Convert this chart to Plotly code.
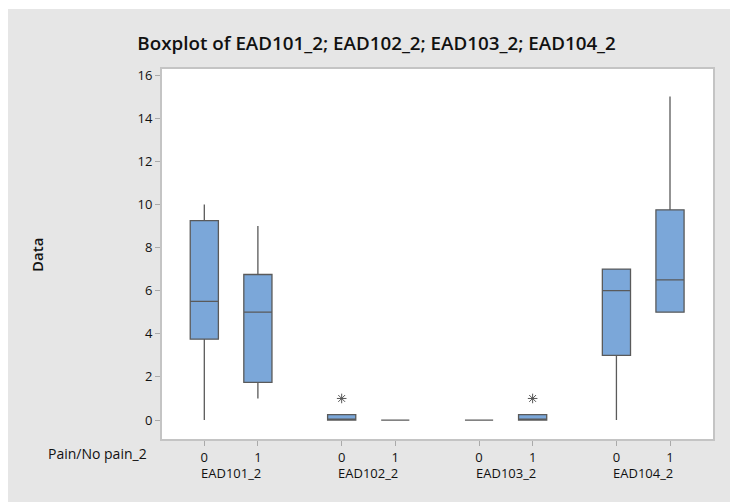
import plotly.graph_objects as go

# ---- data ----
groups = ["EAD101_2", "EAD102_2", "EAD103_2", "EAD104_2"]
levels = ["0", "1"]
q1 =     [3.75, 1.75, 0.0, 0.0, 0.0, 0.0, 3.0, 5.0]
median = [5.5,  5.0,  0.0, 0.0, 0.0, 0.0, 6.0, 6.5]
q3 =     [9.25, 6.75, 0.25, 0.0, 0.0, 0.25, 7.0, 9.75]
lower =  [0.0,  1.0,  0.0, 0.0, 0.0, 0.0, 0.0, 5.0]
upper =  [10.0, 9.0,  0.25, 0.0, 0.0, 0.25, 7.0, 15.0]
outlier_box = [2, 5]          # index of box having an outlier
outlier_val = [1.0, 1.0]
y_ticks = [0, 2, 4, 6, 8, 10, 12, 14, 16]

# positions: group centre +/- offset
offset = 0.195
xpos = []
xtext = []
for g in range(len(groups)):
    for j, lv in enumerate(levels):
        xpos.append(g + (-offset if j == 0 else offset))
        xtext.append(lv)

FONT = "Open Sans"
fig = go.Figure()
fig.add_trace(go.Box(
    x=xpos, q1=q1, median=median, q3=q3,
    lowerfence=lower, upperfence=upper,
    width=0.205, whiskerwidth=0,
    fillcolor="#7BA7D9",
    line=dict(color="#5a5a5a", width=1.3),
    boxpoints=False, hoverinfo="skip", showlegend=False,
))
fig.add_trace(go.Scatter(
    x=[xpos[i] for i in outlier_box], y=outlier_val, mode="markers",
    marker=dict(symbol="asterisk-open", size=8, color="#555555",
                line=dict(color="#555555", width=1)),
    showlegend=False, hoverinfo="skip",
))

# page offset (body margin) of the html page
OFF = 8
W, H = 738 - OFF, 502 - OFF
# plot area in page pixels: x 162..712.7, y 69..439
L = 162 - OFF
T = 69 - OFF
R = 738 - 712.7
B = 502 - 439
pw, ph = W - L - R, H - T - B

def px_x(X):  # page pixel -> paper
    return (X - OFF - L) / pw

def px_y(Y):
    return (H - B - (Y - OFF)) / ph

shapes = [
    # thin white strip at top of the grey frame
    dict(type="rect", xref="paper", yref="paper", x0=px_x(0), x1=px_x(760),
         y0=px_y(9), y1=px_y(0), fillcolor="white", line_width=0, layer="below"),
]

annotations = [
    dict(text="Pain/No pain_2", xref="paper", yref="paper", x=px_x(149), y=px_y(453),
         xanchor="right", yanchor="middle", showarrow=False,
         font=dict(family=FONT, size=14, color="#111")),
    dict(text="Data", xref="paper", yref="paper", x=px_x(37), y=px_y(255),
         xanchor="center", yanchor="middle", showarrow=False, textangle=-90,
         font=dict(family=FONT, size=15, color="#111", weight=600)),
]
for g, name in enumerate(groups):
    annotations.append(dict(text=name, xref="x", yref="paper", x=g, y=px_y(473),
                            xanchor="center", yanchor="middle", showarrow=False,
                            font=dict(family=FONT, size=13, color="#111")))

fig.update_layout(
    width=W, height=H,
    margin=dict(l=L, r=R, t=T, b=B, autoexpand=False),
    paper_bgcolor="#E6E6E6", plot_bgcolor="white",
    boxmode="overlay",
    title=dict(text="Boxplot of EAD101_2; EAD102_2; EAD103_2; EAD104_2",
               x=px_x(376.5), xref="paper", xanchor="center",
               y=1 - (43 - OFF) / H, yanchor="middle",
               font=dict(family=FONT, size=18.8, color="#111", weight=600)),
    xaxis=dict(range=[-0.503, 3.508], tickvals=xpos, ticktext=xtext,
               showgrid=False, zeroline=False, showline=True, mirror=True,
               linecolor="#c4c4c4", linewidth=2, ticks="outside", ticklen=5,
               tickcolor="#aaaaaa", tickfont=dict(family=FONT, size=13, color="#111")),
    yaxis=dict(range=[-0.88, 16.28], tickvals=y_ticks,
               showgrid=False, zeroline=False, showline=True, mirror=True,
               linecolor="#c4c4c4", linewidth=2, ticks="outside", ticklen=5,
               tickcolor="#aaaaaa", tickfont=dict(family=FONT, size=13, color="#111")),
    shapes=shapes, annotations=annotations,
)
fig.write_html("out.html")
